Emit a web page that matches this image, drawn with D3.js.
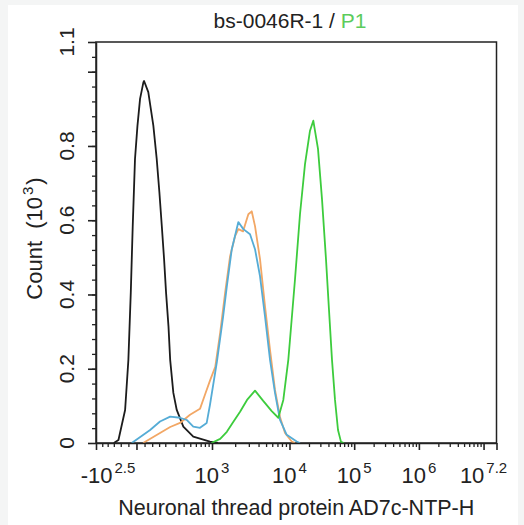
<!DOCTYPE html>
<meta charset="utf-8">
<head>
<style>
  body { margin: 0; background: #f4f5f5; }
  svg text { font-family: Arial, "Liberation Sans", sans-serif; fill: #222; }
  .axis path, .axis line { stroke: #222; }
</style>
</head>
<body>
<svg id="chart" width="524" height="525"></svg>
<script src="https://d3js.org/d3.v7.min.js"></script>
<script>

// intensity (AD7c-NTP-H) vs count in 10^3
var blackInt = [-150, -116, -71, -50, -35, -23, -9, 6, 22, 43, 47, 74, 108, 132, 152, 171, 190, 207, 229, 245, 277, 314, 396, 552, 939, 1200];
var blackCount = [0, 0.008, 0.089, 0.224, 0.405, 0.584, 0.765, 0.854, 0.927, 0.972, 0.975, 0.945, 0.855, 0.765, 0.676, 0.585, 0.495, 0.405, 0.314, 0.224, 0.135, 0.089, 0.044, 0.017, 0.004, 0];

var blueInt = [-29, 86, 157, 245, 353, 444, 552, 685, 847, 939, 1160, 1398, 1560, 1808, 2198, 2549, 3108, 3603, 4178, 4844, 5618, 6512, 7551, 9209, 12922, 14531];
var blueCount = [0, 0.035, 0.058, 0.071, 0.068, 0.062, 0.044, 0.041, 0.054, 0.103, 0.219, 0.341, 0.422, 0.522, 0.595, 0.576, 0.562, 0.522, 0.449, 0.341, 0.224, 0.135, 0.062, 0.022, 0.004, 0];

var orangeInt = [41, 157, 245, 353, 496, 685, 802, 939, 1103, 1279, 1483, 1719, 1993, 2198, 2527, 2955, 3268, 3603, 4178, 4844, 5618, 6512, 7551, 8756, 10814, 12165];
var orangeCount = [0, 0.027, 0.043, 0.054, 0.076, 0.092, 0.130, 0.168, 0.205, 0.297, 0.405, 0.503, 0.557, 0.576, 0.570, 0.616, 0.624, 0.584, 0.495, 0.368, 0.251, 0.143, 0.070, 0.027, 0.004, 0];

var greenInt = [980, 1279, 1560, 1896, 2312, 2844, 3603, 4566, 5908, 7181, 8328, 9654, 10179, 12165, 14531, 17364, 20744, 23336, 27576, 31800, 36661, 40786, 45394, 50511, 56208, 62547, 69580];
var greenCount = [0, 0.011, 0.030, 0.057, 0.084, 0.116, 0.141, 0.114, 0.086, 0.068, 0.116, 0.224, 0.278, 0.441, 0.616, 0.751, 0.841, 0.868, 0.792, 0.657, 0.495, 0.359, 0.224, 0.116, 0.035, 0.003, 0];

// axis ticks
var xMax = Math.pow(10, 7.2), xMin = -Math.pow(10, 2.5);
var xMajor = [xMin, 0, 1e3, 1e4, 1e5, 1e6, 1e7, xMax];
var xMinor = [-250, -200, -150, -100, -50, 50, 100, 150, 200, 300, 400, 500, 600, 700, 800, 900];
[1e3, 1e4, 1e5, 1e6].forEach(function(d) {
  for (var k = 2; k < 10; k++) xMinor.push(k * d);
});
var xLabelVals = [xMin, 1e3, 1e4, 1e5, 1e6, xMax];
var xLabelBase = ["-10", "10", "10", "10", "10", "10"];
var xLabelExp = ["2.5", "3", "4", "5", "6", "7.2"];

var yMax = 1.08;
var yMajor = [0, 0.2, 0.4, 0.6, 0.8, 1.0, 1.08];
var yLabelVals = [0, 0.2, 0.4, 0.6, 0.8, 1.08];
var yLabels = ["0", "0.2", "0.4", "0.6", "0.8", "1.1"];
var yMinor = d3.range(0.04, 1.07, 0.04);

var svg = d3.select("#chart");
var mLeft = 96, mRight = 496.5, mTop = 42, mBottom = 443;

svg.append("rect").attr("x", 8).attr("y", 5).attr("width", 510).attr("height", 520).attr("fill", "#fff");

// biexponential-ish display transform, then piecewise linear to pixels
function tx(v) { return Math.asinh(v / 200) / Math.LN10 + 2; }
var x = d3.scaleLinear()
  .domain([tx(xMin), tx(1e3), tx(1e4), tx(xMax)])
  .range([mLeft, 212, 289.5, mRight]);
var y = d3.scaleLinear().domain([0, yMax]).range([mBottom, mTop]);

svg.append("rect")
  .attr("x", mLeft).attr("y", mTop)
  .attr("width", mRight - mLeft).attr("height", mBottom - mTop)
  .attr("fill", "#fff").attr("stroke", "#222").attr("stroke-width", 1.5);

var line = d3.line()
  .x(function(d) { return x(tx(d[0])); })
  .y(function(d) { return y(d[1]); });

var series = [
  { ints: blackInt, counts: blackCount, color: "#1c1c1c" },
  { ints: orangeInt, counts: orangeCount, color: "#f2a765" },
  { ints: blueInt, counts: blueCount, color: "#55acd6" },
  { ints: greenInt, counts: greenCount, color: "#3dcc3d" }
];
series.forEach(function(s) {
  svg.append("path")
    .datum(d3.zip(s.ints, s.counts))
    .attr("fill", "none")
    .attr("stroke", s.color)
    .attr("stroke-width", 1.8)
    .attr("stroke-linejoin", "round")
    .attr("d", line);
});

// x axis
svg.append("g").attr("class", "axis").attr("transform", "translate(0," + mBottom + ")")
  .call(d3.axisBottom(x).tickValues(xMinor.map(tx)).tickSize(4).tickFormat("").tickSizeOuter(0))
  .call(function(g) { g.selectAll("line").attr("stroke-width", 1.3); g.select(".domain").attr("stroke-width", 1.5); });
svg.append("g").attr("class", "axis").attr("transform", "translate(0," + mBottom + ")")
  .call(d3.axisBottom(x).tickValues(xMajor.map(tx)).tickSize(7).tickFormat("").tickSizeOuter(0))
  .call(function(g) { g.selectAll("line").attr("stroke-width", 1.6); g.select(".domain").remove(); });

var xl = svg.append("g").selectAll("text").data(xLabelVals).enter().append("text")
  .attr("x", function(d, i) {
    var p = x(tx(d));
    if (i == 0) return p + 12;
    if (i == xLabelVals.length - 1) return x(tx(1e7));
    return p;
  })
  .attr("y", 483)
  .attr("text-anchor", "middle")
  .style("font-size", "22px");
xl.append("tspan").text(function(d, i) { return xLabelBase[i]; });
xl.append("tspan").attr("dy", -10).attr("dx", 2).style("font-size", "15px").text(function(d, i) { return xLabelExp[i]; });

// y axis
svg.append("g").attr("class", "axis").attr("transform", "translate(" + mLeft + ",0)")
  .call(d3.axisLeft(y).tickValues(yMinor).tickSize(4).tickFormat("").tickSizeOuter(0))
  .call(function(g) { g.selectAll("line").attr("stroke-width", 1.3); g.select(".domain").attr("stroke-width", 1.5); });
svg.append("g").attr("class", "axis").attr("transform", "translate(" + mLeft + ",0)")
  .call(d3.axisLeft(y).tickValues(yMajor).tickSize(8).tickFormat("").tickSizeOuter(0))
  .call(function(g) { g.selectAll("line").attr("stroke-width", 1.6); g.select(".domain").remove(); });

svg.append("g").selectAll("text").data(yLabelVals).enter().append("text")
  .attr("transform", function(d) { return "translate(74," + y(d) + ") rotate(-90)"; })
  .attr("text-anchor", "middle")
  .style("font-size", "21px")
  .text(function(d, i) { return yLabels[i]; });

// titles
var yt = svg.append("text")
  .attr("transform", "translate(42," + ((mTop + mBottom) / 2 - 4) + ") rotate(-90)")
  .attr("text-anchor", "middle")
  .style("font-size", "22px")
  .style("white-space", "pre");
yt.append("tspan").text("Count  (10");
yt.append("tspan").attr("dy", -9).attr("dx", 2).style("font-size", "15px").text("3");
yt.append("tspan").attr("dy", 9).attr("dx", 2).text(")");

svg.append("text")
  .attr("x", (mLeft + mRight) / 2).attr("y", 515)
  .attr("text-anchor", "middle")
  .style("font-size", "21.5px")
  .text("Neuronal thread protein AD7c-NTP-H");

var tt = svg.append("text")
  .attr("x", 290).attr("y", 28)
  .attr("text-anchor", "middle")
  .style("font-size", "21px");
tt.append("tspan").text("bs-0046R-1 / ");
tt.append("tspan").style("fill", "#5ccc5c").text("P1");

</script>
